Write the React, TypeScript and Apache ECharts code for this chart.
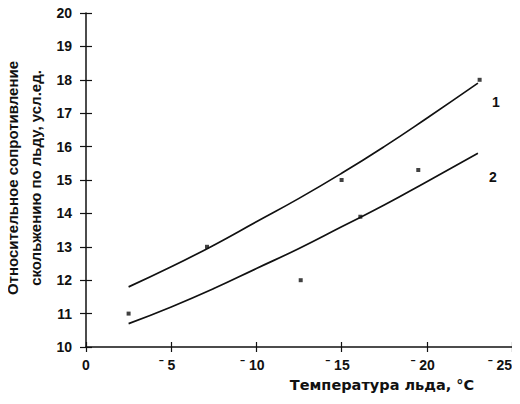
import React, { useEffect, useRef } from "react";
import * as echarts from "echarts";

const xTicks = [0, 5, 10, 15, 20, 25];
const curve1X = [2.5, 5, 7.5, 10, 12.5, 15, 17.5, 20, 23];
const curve1Y = [11.8, 12.4, 13.05, 13.75, 14.45, 15.2, 16.0, 16.85, 17.9];
const curve2X = [2.5, 5, 7.5, 10, 12.5, 15, 17.5, 20, 23];
const curve2Y = [10.7, 11.2, 11.75, 12.35, 12.95, 13.6, 14.25, 14.95, 15.8];
const pointsX = [2.5, 7.1, 12.6, 15, 16.1, 19.5, 23.1];
const pointsY = [11.0, 13.0, 12.0, 15.0, 13.9, 15.3, 18.0];
const curveNames = ["1", "2"];

const FONT = "Liberation Sans, Arial, sans-serif";

export default function App() {
  const ref = useRef<HTMLDivElement>(null);
  useEffect(() => {
    if (!ref.current) return;
    const chart = echarts.init(ref.current, null, { renderer: "svg" });
    const axisLine = { lineStyle: { color: "#111", width: 1.5 } };
    const labelStyle = { color: "#111", fontWeight: "bold" as const, fontSize: 14, fontFamily: FONT };
    const lastTick = xTicks[xTicks.length - 1];
    chart.setOption({
      animation: false,
      backgroundColor: "#fff",
      grid: { left: 86, top: 13, right: 8, bottom: 57, containLabel: false, outerBoundsMode: "none" },
      xAxis: [
        {
          type: "value", min: 0, max: 25, interval: 5,
          axisLine, splitLine: { show: false },
          axisTick: { show: true, inside: false, length: 5, lineStyle: { color: "#111", width: 1.2 } },
          axisLabel: {
            ...labelStyle, margin: 11, alignMaxLabel: "right",
            formatter: (v: number) =>
              v === 0
                ? "{z|0}"
                : v === lastTick
                ? "{a|ˉ }{n|" + v + "}"
                : "{a|ˉ }{n|" + v + "}{p| }",
            rich: {
              z: { ...labelStyle },
              a: { ...labelStyle },
              n: { ...labelStyle },
              p: { ...labelStyle, width: 8 },
            },
          },
          name: "Температура льда, °C",
          nameLocation: "middle",
          nameGap: 30,
          nameTextStyle: { color: "#111", fontWeight: "bold", fontSize: 14.5, fontFamily: "DejaVu Sans, sans-serif", padding: [0, 0, 0, 166] },
        },
        {
          type: "value", min: 0, max: 25, interval: 5, position: "bottom",
          axisLine: { show: false }, splitLine: { show: false },
          axisTick: { show: true, inside: true, length: 5, lineStyle: { color: "#111", width: 1.2 } },
          axisLabel: { show: false },
        },
      ],
      yAxis: [
        {
          type: "value", min: 10, max: 20, interval: 1,
          axisLine: { show: true, ...axisLine }, splitLine: { show: false },
          axisTick: { show: true, inside: false, length: 6, lineStyle: { color: "#111", width: 1.2 } },
          axisLabel: { ...labelStyle, margin: 14 },
        },
        {
          type: "value", min: 10, max: 20, interval: 1, position: "left",
          axisLine: { show: false }, splitLine: { show: false },
          axisTick: { show: true, inside: true, length: 6, lineStyle: { color: "#111", width: 1.2 } },
          axisLabel: { show: false },
        },
      ],
      series: [
        {
          type: "line", name: curveNames[0], smooth: true, symbol: "none",
          data: curve1X.map((x, i) => [x, curve1Y[i]]),
          lineStyle: { color: "#111", width: 1.7 },
          endLabel: { show: true, formatter: curveNames[0], offset: [6, 19], ...labelStyle },
        },
        {
          type: "line", name: curveNames[1], smooth: true, symbol: "none",
          data: curve2X.map((x, i) => [x, curve2Y[i]]),
          lineStyle: { color: "#111", width: 1.7 },
          endLabel: { show: true, formatter: curveNames[1], offset: [3, 24], ...labelStyle },
        },
        {
          type: "scatter", symbol: "rect", symbolSize: 4,
          data: pointsX.map((x, i) => [x, pointsY[i]]),
          itemStyle: { color: "#111" },
        },
      ],
      graphic: [
        {
          type: "text", x: 24, y: 178, rotation: Math.PI / 2,
          style: {
            text: "Относительное сопротивление\nскольжению по льду, усл.ед.",
            fill: "#111", fontWeight: "bold", fontSize: 15, fontFamily: FONT,
            align: "center", verticalAlign: "middle", lineHeight: 23,
          },
        },
      ],
    });
    return () => chart.dispose();
  }, []);
  return <div ref={ref} style={{ width: 520, height: 404, margin: -8 }} />;
}
